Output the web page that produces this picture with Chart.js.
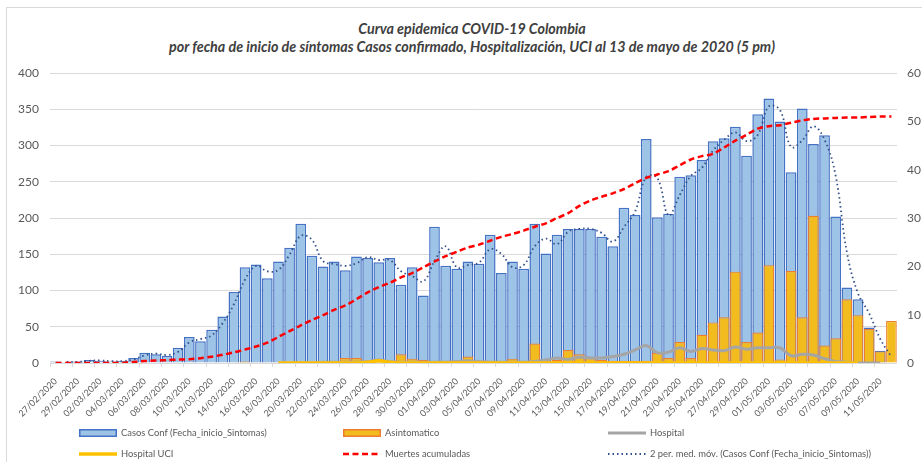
<!DOCTYPE html>
<html lang="es">
<head>
<meta charset="UTF-8">
<title>Curva epidemica COVID-19 Colombia</title>
<script src="https://cdn.jsdelivr.net/npm/chart.js@4"></script>
<style>
  body { margin: 0; background: #fff; }
  #wrap { position: relative; width: 922px; height: 462px; overflow: hidden; font-family: Lato, "Open Sans", sans-serif; }
  #frame { position: absolute; left: 6px; top: 7px; width: 940px; height: 470px; border: 1px solid #d9d9d9; }
  #title { position: absolute; left: 0; width: 944px; top: 20px; text-align: center; font-weight: bold; font-style: italic; font-size: 14.3px; line-height: 18px; color: #404040; }
  #chart { position: absolute; left: 0; top: 0; }
  .lg { position: absolute; font-size: 9.4px; color: #595959; white-space: nowrap; display: flex; align-items: center; }
  .lg svg { margin-right: 4px; }
</style>
</head>
<body>
<div id="wrap">
  <div id="frame"></div>
  <div id="title">Curva epidemica COVID-19 Colombia<br>por fecha de inicio de síntomas Casos confirmado, Hospitalización, UCI al 13 de mayo de 2020 (5 pm)</div>
  <canvas id="chart" width="922" height="462"></canvas>
  <div id="legend"></div>
</div>

<script>
  const fechas = [
    '27/02/2020','28/02/2020','29/02/2020',
    '01/03/2020','02/03/2020','03/03/2020','04/03/2020','05/03/2020','06/03/2020','07/03/2020','08/03/2020','09/03/2020','10/03/2020',
    '11/03/2020','12/03/2020','13/03/2020','14/03/2020','15/03/2020','16/03/2020','17/03/2020','18/03/2020','19/03/2020','20/03/2020',
    '21/03/2020','22/03/2020','23/03/2020','24/03/2020','25/03/2020','26/03/2020','27/03/2020','28/03/2020','29/03/2020','30/03/2020','31/03/2020',
    '01/04/2020','02/04/2020','03/04/2020','04/04/2020','05/04/2020','06/04/2020','07/04/2020','08/04/2020','09/04/2020','10/04/2020',
    '11/04/2020','12/04/2020','13/04/2020','14/04/2020','15/04/2020','16/04/2020','17/04/2020','18/04/2020','19/04/2020','20/04/2020',
    '21/04/2020','22/04/2020','23/04/2020','24/04/2020','25/04/2020','26/04/2020','27/04/2020','28/04/2020','29/04/2020','30/04/2020',
    '01/05/2020','02/05/2020','03/05/2020','04/05/2020','05/05/2020','06/05/2020','07/05/2020','08/05/2020','09/05/2020','10/05/2020',
    '11/05/2020','12/05/2020'
  ];

  // casos confirmados por fecha de inicio de sintomas
  const casosConf = [
    2, 1, 2, 4, 3, 2, 3, 7, 14, 12,
    10, 21, 36, 30, 46, 64, 98, 132, 136, 117,
    140, 159, 192, 148, 133, 140, 128, 147, 145, 139,
    145, 108, 132, 93, 188, 134, 130, 140, 137, 177,
    124, 140, 130, 192, 151, 177, 185, 185, 185, 174,
    161, 214, 204, 309, 201, 206, 257, 259, 280, 306,
    310, 326, 286, 343, 365, 333, 263, 351, 302, 314,
    202, 104, 88, 49, 17, 0
  ];

  const asintomatico = [
    0, 0, 0, 0, 0, 0, 0, 0, 0, 0,
    0, 0, 0, 0, 0, 0, 1, 2, 1, 1,
    1, 1, 2, 1, 1, 2, 7, 7, 2, 3,
    2, 12, 6, 4, 2, 2, 2, 9, 2, 2,
    2, 6, 2, 27, 3, 4, 18, 12, 7, 4,
    3, 3, 3, 3, 14, 7, 29, 7, 39, 56,
    63, 126, 29, 42, 135, 5, 127, 63, 203, 24,
    34, 88, 66, 47, 16, 58
  ];

  const hospital = [
    null, null, null, null, null, null, null, null, null, null,
    null, null, null, null, null, null, null, null, null, null,
    0, 0, 0, 0, 1, 1, 1, 1, 2, 4,
    2, 1, 1, 1, 1, 1, 2, 3, 2, 1,
    1, 1, 1, 2, 4, 7, 5, 8, 7, 7,
    9, 12, 18, 24, 14, 15, 21, 16, 20, 18,
    17, 22, 19, 21, 21, 21, 10, 12, 11, 6,
    2, 1, 0, 0, 0, null
  ];

  const hospitalUci = [
    null, null, null, null, null, null, null, null, null, null,
    null, null, null, null, null, null, null, null, null, null,
    0, 0, 0, 0, 0, 0, 0, 0, 1, 3,
    1, 0, 0, 0, 0, 0, 0, 0, 0, 0,
    0, 0, 0, 0, 0, 0, 0, 0, 0, 0,
    0, 0, 0, 0, 0, 0, 0, 0, 0, 0,
    0, 0, 0, 0, 0, 0, 0, 0, 0, 0,
    0, 0, 0, null, null, null
  ];

  // eje derecho
  const muertesAcum = [
    0, 0, 0, 0, 0, 0, 0, 0.2, 0.4, 0.5,
    0.6, 0.7, 0.8, 1.0, 1.3, 1.7, 2.2, 2.8, 3.4, 4.2,
    5.4, 6.6, 7.8, 8.9, 9.9, 11, 11.9, 13.2, 14.6, 15.7,
    16.6, 17.7, 18.6, 19.8, 21, 22.1, 23, 23.9, 24.5, 25.3,
    26.1, 26.7, 27.4, 28.2, 28.9, 30, 31, 32.5, 33.6, 34.4,
    35.1, 36, 37.2, 38.3, 39, 39.7, 40.9, 42.1, 42.8, 43.3,
    44.6, 46, 47.2, 48.5, 49, 49.2, 49.7, 50.2, 50.5, 50.6,
    50.7, 50.8, 50.8, 50.9, 51, 51
  ];

  // 2 per. med. mov.
  const mediaMovil = [
    null, 1.5, 1.5, 3, 3.5, 2.5, 2.5, 5, 10.5, 13,
    11, 15.5, 28.5, 33, 38, 55, 81, 115, 134, 126.5,
    128.5, 149.5, 175.5, 170, 140.5, 136.5, 134, 137.5, 146, 142,
    142, 126.5, 120, 112.5, 140.5, 161, 132, 135, 138.5, 157,
    150.5, 132, 135, 161, 171.5, 164, 181, 185, 185, 179.5,
    167.5, 187.5, 209, 256.5, 255, 203.5, 231.5, 258, 269.5, 293,
    308, 318, 306, 314.5, 354, 349, 298, 307, 326.5, 308,
    258, 153, 96, 68.5, 33, 8.5
  ];

  const nombres = [
    'Casos Conf (Fecha_inicio_Sintomas)', 'Asintomatico', 'Hospital',
    'Hospital UCI', 'Muertes acumuladas', '2 per. med. móv. (Casos Conf (Fecha_inicio_Sintomas))'
  ];

  const ticksIzq = [0, 50, 100, 150, 200, 250, 300, 350, 400];
  const ticksDer = [0, 10, 20, 30, 40, 50, 60];

  const gris = '#595959';

  new Chart(document.getElementById('chart'), {
    data: {
      labels: fechas,
      datasets: [
        { type: 'line', label: nombres[4], data: muertesAcum, yAxisID: 'y1', order: 0,
          borderColor: '#ff0000', borderWidth: 2.5, borderDash: [6, 3.5], pointRadius: 0, tension: 0.3, fill: false },
        { type: 'line', label: nombres[5], data: mediaMovil, yAxisID: 'y', order: 1,
          borderColor: '#34508a', borderWidth: 1.8, borderDash: [1.5, 3], pointRadius: 0, tension: 0.4, fill: false },
        { type: 'line', label: nombres[3], data: hospitalUci, yAxisID: 'y', order: 2,
          borderColor: '#ffc000', borderWidth: 3.5, pointRadius: 0, tension: 0.3, fill: false },
        { type: 'line', label: nombres[2], data: hospital, yAxisID: 'y', order: 3,
          borderColor: '#a5a5a5', borderWidth: 3, pointRadius: 0, tension: 0.35, fill: false },
        { type: 'bar', label: nombres[1], data: asintomatico, yAxisID: 'y', order: 5, grouped: false,
          backgroundColor: '#f2bc1e', borderColor: '#ed7d31', borderWidth: 1.2,
          categoryPercentage: 1, barPercentage: 0.96 },
        { type: 'bar', label: nombres[0], data: casosConf, yAxisID: 'y', order: 6, grouped: false,
          backgroundColor: '#9dc3e6', borderColor: '#4472c4', borderWidth: 1.5,
          categoryPercentage: 1, barPercentage: 0.96 }
      ]
    },
    options: {
      responsive: false,
      animation: false,
      devicePixelRatio: 1,
      layout: { padding: { top: 73, left: 0, right: 0, bottom: 0 } },
      plugins: { legend: { display: false }, title: { display: false }, tooltip: { enabled: false } },
      scales: {
        x: {
          grid: {
            display: true, drawOnChartArea: false, offset: true, tickLength: 4,
            color: c => (c.index % 2 === 0 ? '#d9d9d9' : 'rgba(0,0,0,0)')
          },
          border: { display: false },
          ticks: {
            autoSkip: false, minRotation: 45, maxRotation: 45, padding: 9,
            color: gris, font: { family: 'Lato', size: 9 },
            callback: (v, i) => i % 2 === 0 ? fechas[i] : ''
          },
          afterFit: s => { s.height = 462 - 363; }
        },
        y: {
          position: 'left', min: 0, max: 400,
          afterBuildTicks: s => { s.ticks = ticksIzq.map(v => ({ value: v })); },
          grid: { color: '#d9d9d9', lineWidth: 1, drawTicks: false },
          border: { display: false },
          ticks: { padding: 11, color: gris, font: { family: 'Lato', size: 12 } },
          afterFit: s => { s.width = 50; }
        },
        y1: {
          position: 'right', min: 0, max: 60,
          afterBuildTicks: s => { s.ticks = ticksDer.map(v => ({ value: v })); },
          grid: { display: false, drawTicks: false },
          border: { display: false },
          ticks: { padding: 10, color: gris, font: { family: 'Lato', size: 12 } },
          afterFit: s => { s.width = 25; }
        }
      }
    }
  });

  // leyenda abajo, tres columnas
  const simbolos = [
    '<svg width="38" height="8"><rect x="0.75" y="0.75" width="36.5" height="6.5" fill="#9dc3e6" stroke="#4472c4" stroke-width="1.5"/></svg>',
    '<svg width="38" height="8"><rect x="0.75" y="0.75" width="36.5" height="6.5" fill="#f2bc1e" stroke="#ed7d31" stroke-width="1.5"/></svg>',
    '<svg width="38" height="8"><line x1="0" y1="4" x2="38" y2="4" stroke="#a5a5a5" stroke-width="3"/></svg>',
    '<svg width="38" height="8"><line x1="0" y1="4" x2="38" y2="4" stroke="#ffc000" stroke-width="3.5"/></svg>',
    '<svg width="38" height="8"><line x1="0" y1="4" x2="38" y2="4" stroke="#ff0000" stroke-width="2.5" stroke-dasharray="6 3.5"/></svg>',
    '<svg width="38" height="8"><line x1="0" y1="4" x2="38" y2="4" stroke="#34508a" stroke-width="1.8" stroke-dasharray="1.5 3"/></svg>'
  ];
  const colX = [79, 343, 608];
  const filaY = [427, 448];
  const legend = document.getElementById('legend');
  nombres.forEach((n, i) => {
    const d = document.createElement('div');
    d.className = 'lg';
    d.style.left = colX[i % 3] + 'px';
    d.style.top = filaY[Math.floor(i / 3)] + 'px';
    d.innerHTML = simbolos[i] + '<span>' + n + '</span>';
    legend.appendChild(d);
  });
</script>
</body>
</html>
